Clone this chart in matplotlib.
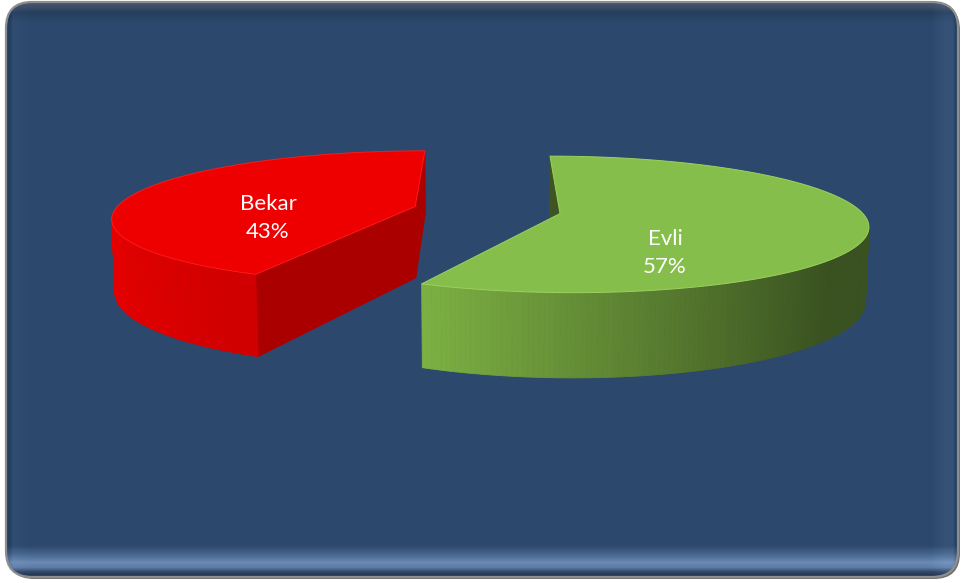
import numpy as np
import matplotlib.pyplot as plt
from matplotlib.patches import FancyBboxPatch, Polygon
from matplotlib.colors import to_rgb

# data (first point starts at 12 o'clock and runs clockwise)
labels = ['Evli', 'Bekar']
values = [57, 43]
top_colors = ['#86BE4B', '#EE0000']
side_light = ['#7DB043', '#E60000']
side_dark = ['#3A5220', '#D20000']
cut_colors = ['#3E5523', '#AA0000']
edge_colors = ['#9BD25E', '#FF1A1A']
label_xy = [(665, 253), (268, 218)]

W, H = 961, 583
fig = plt.figure(figsize=(W / 100, H / 100), dpi=100)
fig.patch.set_facecolor('white')
ax = fig.add_axes([0, 0, 1, 1])

# --- rounded, bevelled background panel ---
ry = [0, 3, 6, 12, 22, 545, 553, 562, 567, 571, 574, 583]
rc = np.array([(70, 85, 110), (70, 85, 110), (62, 78, 104), (38, 62, 94), (44, 72, 108),
               (44, 72, 108), (68, 98, 138), (106, 138, 180), (92, 122, 164), (50, 74, 108),
               (38, 56, 84), (38, 56, 84)], float)
yy = np.arange(H)
rows = np.stack([np.interp(yy, ry, rc[:, k]) for k in range(3)], axis=1)
cx_ = [0, 9, 13, 30, 930, 944, 952, 956, W]
cd = [-10, -10, 5, 0, 0, 9, 9, -10, -10]
cols = np.interp(np.arange(W), cx_, cd)
img = rows[:, None, :] + cols[None, :, None]
img = np.clip(img, 0, 255) / 255.0

shadow = FancyBboxPatch((8, 4), 952, 575, boxstyle="round,pad=0,rounding_size=26",
                        fc='#707070', ec='none', zorder=0)
ax.add_patch(shadow)
panel = FancyBboxPatch((6, 2), 952, 575, boxstyle="round,pad=0,rounding_size=26",
                       fc='none', ec='#8E8E8E', lw=1.6, zorder=1.5)
ax.add_patch(panel)
im = ax.imshow(img, extent=(0, W, H, 0), aspect='auto', zorder=1, interpolation='bilinear')
im.set_clip_path(panel)

# --- 3D exploded pie, simple perspective camera ---
phi = np.radians(12.58)
D = 6.2
f = 1862.0
x0, y0 = 487.0, 210.0
h = 0.2475
explode = 0.247
cam = np.array([0.0, -D * np.cos(phi), D * np.sin(phi)])


def project(X, Y, Z):
    X, Y, Z = np.asarray(X, float), np.asarray(Y, float), np.asarray(Z, float)
    yv = Y * np.sin(phi) + Z * np.cos(phi)
    zv = D + Y * np.cos(phi) - Z * np.sin(phi)
    return np.column_stack([x0 + f * X / zv, y0 - f * yv / zv])


def facing(p, n):
    return np.dot(cam - np.asarray(p), np.asarray(n)) > 0


total = float(sum(values))
start = 90.0
for i, v in enumerate(values):
    span = 360.0 * v / total
    a1 = start
    a0 = start - span
    start = a0
    mid = np.radians((a0 + a1) / 2)
    cx, cy = explode * np.cos(mid), explode * np.sin(mid)

    # radial cut faces
    for ang, sgn in [(a0, -1), (a1, 1)]:
        r = np.radians(ang)
        nr = np.radians(ang + sgn * 90)
        if facing((cx, cy, -h / 2), (np.cos(nr), np.sin(nr), 0)):
            ex, ey = cx + np.cos(r), cy + np.sin(r)
            pts = project([cx, ex, ex, cx], [cy, ey, ey, cy], [0, 0, -h, -h])
            ax.add_patch(Polygon(pts, closed=True, fc=cut_colors[i], ec=cut_colors[i],
                                 lw=0.5, zorder=2))

    # outer curved side, shaded light (left) to dark (right)
    t = np.radians(np.linspace(a0, a1, 241))
    tm = (t[:-1] + t[1:]) / 2
    vis = [k for k in range(len(tm))
           if facing((cx + np.cos(tm[k]), cy + np.sin(tm[k]), -h / 2),
                     (np.cos(tm[k]), np.sin(tm[k]), 0))]
    if vis:
        cvals = np.cos(tm[vis])
        lo, hi = cvals.min(), cvals.max()
        rng = (hi - lo) * 0.85 if hi > lo else 1
        cl, cdk = np.array(to_rgb(side_light[i])), np.array(to_rgb(side_dark[i]))
        for k in vis:
            s = np.clip((np.cos(tm[k]) - lo) / rng, 0, 1)
            col = cl + (cdk - cl) * s
            xs = cx + np.cos([t[k], t[k + 1], t[k + 1], t[k]])
            ys = cy + np.sin([t[k], t[k + 1], t[k + 1], t[k]])
            pts = project(xs, ys, [0, 0, -h, -h])
            ax.add_patch(Polygon(pts, closed=True, fc=col, ec=col, lw=0.6, zorder=3))

    # top face
    X = np.concatenate([[cx], cx + np.cos(t)])
    Y = np.concatenate([[cy], cy + np.sin(t)])
    pts = project(X, Y, np.zeros_like(X))
    ax.add_patch(Polygon(pts, closed=True, fc=top_colors[i], ec=edge_colors[i],
                         lw=0.7, zorder=4))

    lx, ly = label_xy[i]
    ax.text(lx, ly, f"{labels[i]}\n{v}%", color='white', fontsize=16,
            family=['Lato', 'DejaVu Sans'], ha='center', va='center',
            linespacing=1.45, zorder=5)

ax.set_xlim(0, W)
ax.set_ylim(H, 0)
ax.axis('off')
fig.savefig('out.png', dpi=100, facecolor='white')
